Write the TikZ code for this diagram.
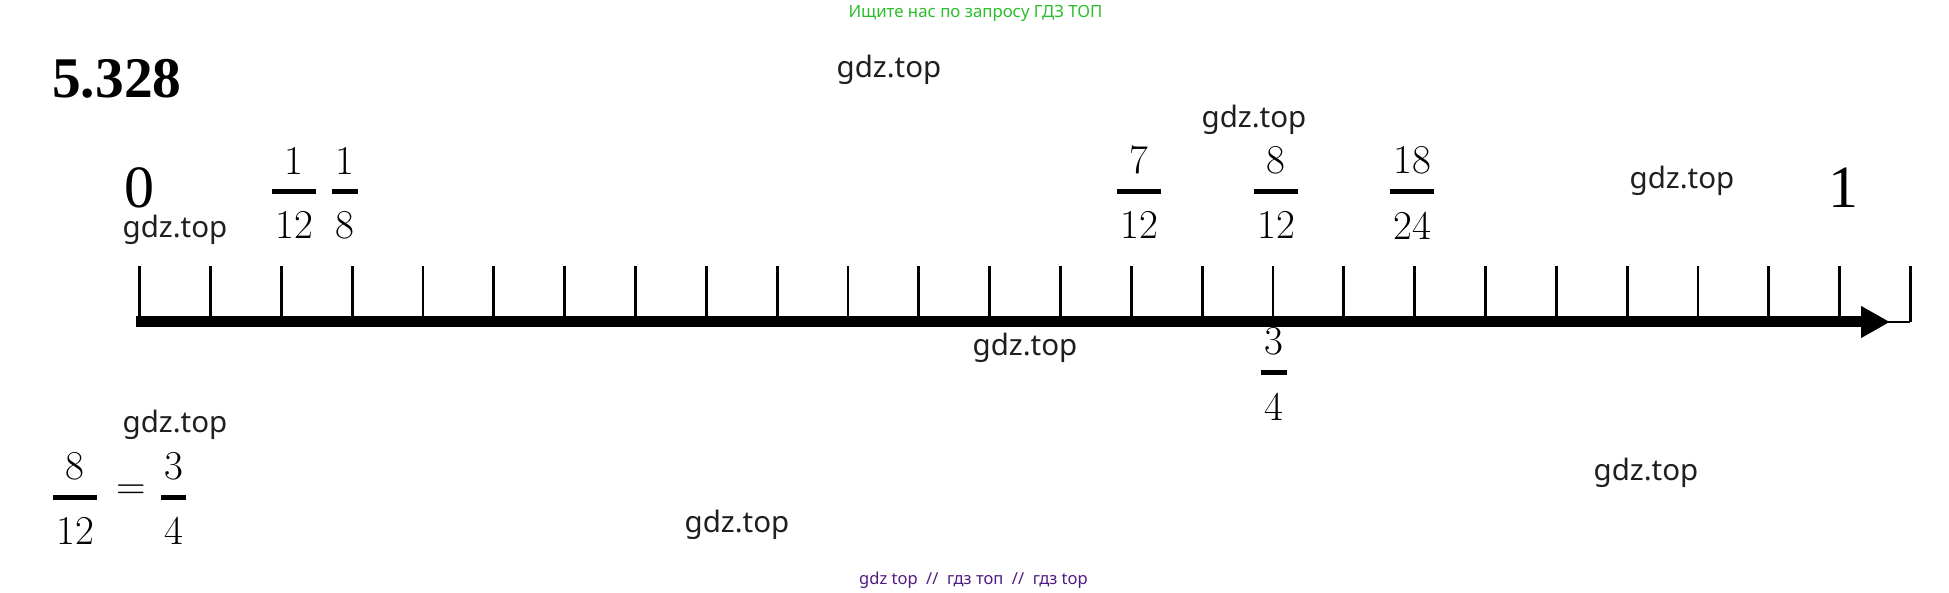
\documentclass[tikz,border=0pt]{standalone}
\usepackage{fontspec}
\setmainfont{Latin Modern Roman}
\newfontfamily\timesfont{Liberation Serif}
\newfontfamily\wmfont{Noto Sans}
\definecolor{wmgreen}{RGB}{45,190,45}
\definecolor{wmpurple}{RGB}{80,25,130}
\usetikzlibrary{arrows.meta,calc}

% fraction: name, x, y of bar, numerator, denominator
\newcommand{\fracmark}[5]{%
  \node[fracden] (#1den) at (#2,#3+20) {#5};
  \node[fracnum] (#1num) at (#2,#3-17) {#4};
  \draw[fracbar] (#1den.west |- 0,#3) ++(-3,0) -- (#1den.east |- 0,#3) -- ++(3,0);
}

\begin{document}
\begin{tikzpicture}[x=1pt, y=-1pt,
    tickline/.style={line width=2.8pt},
    fracnum/.style={inner sep=0pt, anchor=south, font=\fontsize{41}{41}\selectfont},
    fracden/.style={inner sep=0pt, anchor=north, font=\fontsize{41}{41}\selectfont},
    fracbar/.style={line width=5pt},
    bignum/.style={inner sep=0pt, anchor=base, font=\timesfont\fontsize{60}{60}\selectfont},
    wm/.style={inner sep=0pt, font=\wmfont\fontsize{29.5}{29.5}\selectfont, text=black!88}]
    \path[fill=white] (0,0) rectangle (1949,593);

    % header
    \node[font=\wmfont\fontsize{16.8}{16.8}\selectfont, text=wmgreen, anchor=base, inner sep=0pt] (ask) at (975.5,18) {Ищите нас по запросу ГДЗ ТОП};
    \node[anchor=base west, inner sep=0pt, font=\timesfont\bfseries\fontsize{57.5}{57.5}\selectfont] (task) at (52,98) {5.328};

    % number line
    \foreach \i in {0,...,25}
        \coordinate (t\i) at (139.7+70.83*\i, 322);
    \foreach \i in {0,...,25}
        \draw[tickline] (t\i) -- ++(0,-56);
    \coordinate (axstart) at (136,322);
    \coordinate (axend) at (1890,322);
    \draw[line width=11pt, -{Triangle[length=29pt,width=30pt]}] (axstart) -- (axend);
    \draw[tickline] (1885,322) -- (t25);

    \node[bignum] (zero) at (139,208) {0};
    \node[bignum] (one) at (1843,208) {1};

    \fracmark{a}{294}{191.5}{1}{12}
    \fracmark{b}{345}{191.5}{1}{8}
    \fracmark{c}{1139}{191.5}{7}{12}
    \fracmark{d}{1276}{191.5}{8}{12}
    \fracmark{e}{1412}{191.5}{18}{24}
    \fracmark{f}{1274}{372.5}{3}{4}

    % answer
    \fracmark{g}{75}{497}{8}{12}
    \node[inner sep=0pt, font=\fontsize{41}{41}\selectfont] (eq) at (131,492.5) {=};
    \fracmark{h}{173.5}{497}{3}{4}

    % watermarks
    \node[wm] (w1) at (889,70) {gdz.top};
    \node[wm] (w2) at (1254,119.5) {gdz.top};
    \node[wm] (w3) at (175,230) {gdz.top};
    \node[wm] (w4) at (1682,181) {gdz.top};
    \node[wm] (w5) at (1025,348) {gdz.top};
    \node[wm] (w6) at (175,425) {gdz.top};
    \node[wm] (w7) at (1646,473) {gdz.top};
    \node[wm] (w8) at (737,525) {gdz.top};
    \node[font=\wmfont\fontsize{16.5}{16.5}\selectfont, text=wmpurple, anchor=base, inner sep=0pt] (foot) at (973.5,584) {gdz top \ // \ гдз топ \ // \ гдз top};
\end{tikzpicture}
\end{document}
